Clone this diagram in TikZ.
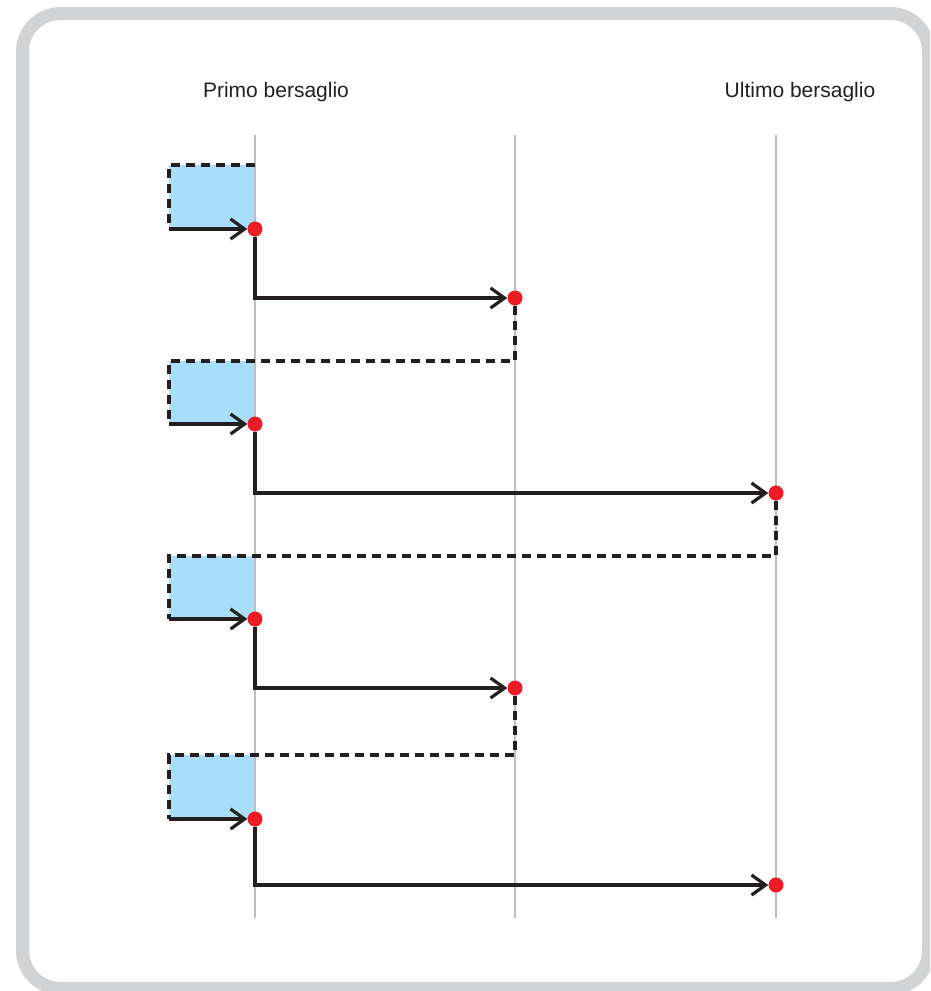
\documentclass[tikz,border=0pt]{standalone}
\usepackage{fontspec}
\setmainfont{Liberation Sans}
\usetikzlibrary{arrows.meta}
\definecolor{framegray}{HTML}{D1D3D4}
\definecolor{railgray}{HTML}{BCBEC0}
\definecolor{hitred}{HTML}{ED1C24}
\definecolor{boxblue}{HTML}{A8DEF9}
\definecolor{inkblack}{HTML}{231F20}
\tikzstyle{heading} = [font=\fontsize{21}{25}\selectfont,
text=inkblack]
\tikzstyle{target} = [circle,
inner sep=0pt,
minimum size=15pt,
fill=hitred]
\tikzstyle{rail} = [draw=railgray, line width=2pt]
\tikzstyle{window} = [fill=boxblue]
\tikzstyle{arrow} = [line width=3.2pt, draw=inkblack, -{Straight Barb[length=14pt,width=20pt]}]
\tikzstyle{jump} = [line width=3.2pt, draw=inkblack, dash pattern=on 9pt off 6pt]
\tikzstyle{elbow} = [to path={|- (\tikztotarget) \tikztonodes}]

\begin{document}
\begin{tikzpicture}[x=1pt, y=-1pt]
			\useasboundingbox (0,0) rectangle (930,991);
			\clip (0,0) rectangle (930,991);
			\draw[framegray, line width=13pt, rounded corners=38pt] (22.5,13.5) rectangle (928.5,988.5);

			\fill[window] (169,165) rectangle (255,229);
			\fill[window] (169,361) rectangle (255,424);
			\fill[window] (169,556) rectangle (255,619);
			\fill[window] (169,755) rectangle (255,819);

			\draw[rail] (255,135) -- (255,918);
			\draw[rail] (515,135) -- (515,918);
			\draw[rail] (776,135) -- (776,918);

			\node (first) [heading] at (276,92) {Primo bersaglio};
			\node (last) [heading] at (800,92) {Ultimo bersaglio};

			\node (a1) [target] at (255,229) {};
			\node (b1) [target] at (515,298) {};
			\node (a2) [target] at (255,424) {};
			\node (b2) [target] at (776,493) {};
			\node (a3) [target] at (255,619) {};
			\node (b3) [target] at (515,688) {};
			\node (a4) [target] at (255,819) {};
			\node (b4) [target] at (776,885) {};

			\coordinate (k1) at (255,165);
			\coordinate (k2) at (169,361);
			\coordinate (k3) at (169,556);
			\coordinate (k4) at (169,755);
			\coordinate (s1) at (169,229);
			\coordinate (s2) at (169,424);
			\coordinate (s3) at (169,619);
			\coordinate (s4) at (169,819);

			\draw[jump] (k1) -| (s1);
			\draw[jump] (b1) |- (k2) -- (s2);
			\draw[jump] (b2) |- (k3) -- (s3);
			\draw[jump] (b3) |- (k4) -- (s4);

			\path (s1) edge[arrow] (a1)
							(a1) edge[arrow, elbow] (b1)
							(s2) edge[arrow] (a2)
							(a2) edge[arrow, elbow] (b2)
							(s3) edge[arrow] (a3)
							(a3) edge[arrow, elbow] (b3)
							(s4) edge[arrow] (a4)
							(a4) edge[arrow, elbow] (b4);
		\end{tikzpicture}
\end{document}
